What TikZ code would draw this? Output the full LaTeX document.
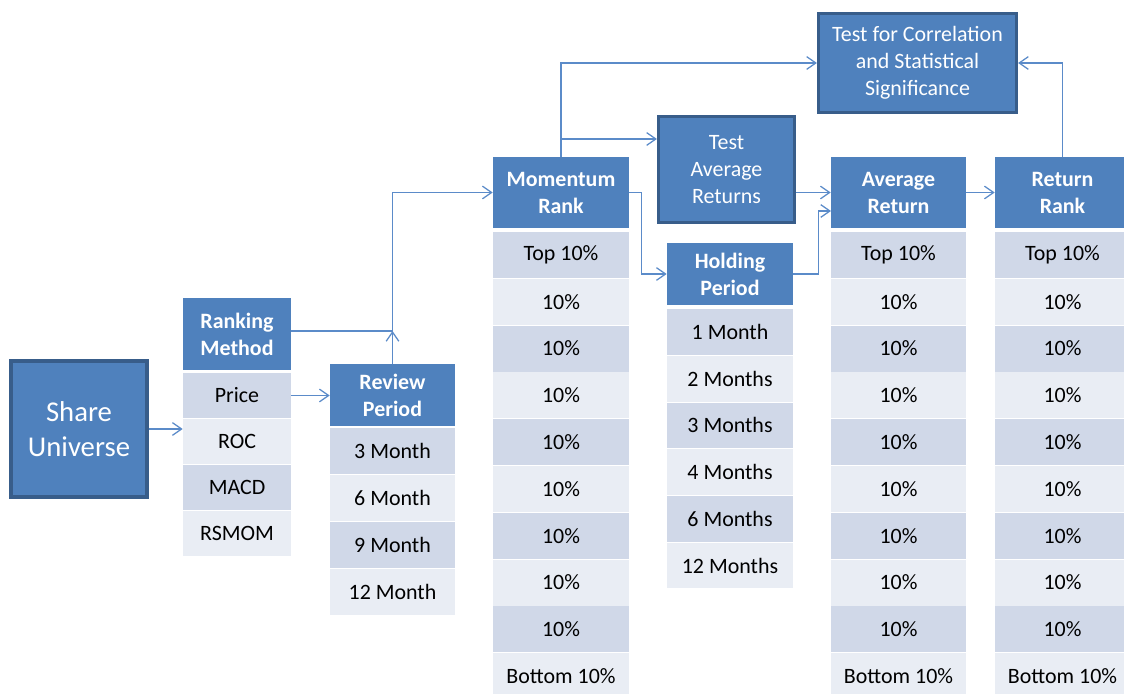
\documentclass[tikz,border=0pt]{standalone}
\usepackage{fontspec}
\setmainfont{Carlito}
\usepackage{tikz}
\usetikzlibrary{arrows.meta}
\definecolor{boxblue}{HTML}{4F81BD}
\definecolor{boxedge}{HTML}{385D8A}
\definecolor{rowdark}{HTML}{D0D8E8}
\definecolor{rowlight}{HTML}{E9EDF4}
\definecolor{linkblue}{HTML}{5B8BC9}
\tikzset{
  head/.style={fill=boxblue, text=white, align=center, inner sep=0pt,
    font=\fontsize{15.6}{19.2}\selectfont\bfseries},
  testbox/.style={fill=boxblue, draw=boxedge, line width=2.2pt, text=white,
    align=center, inner sep=0pt, font=\fontsize{15.6}{19.2}\selectfont},
  cell/.style={inner sep=0pt, font=\fontsize{15.6}{19}\selectfont},
  cell1/.style={cell, fill=rowdark},
  cell0/.style={cell, fill=rowlight},
  link/.style={draw=linkblue, line width=0.9pt},
  >={Straight Barb[length=6.5pt,width=9pt]}
}

\begin{document}
\begin{tikzpicture}[x=0.025cm, y=-0.025cm]
  \useasboundingbox (0,0) rectangle (1124,694);

  \node [testbox, minimum width=3.4cm, minimum height=3.4cm,
    font=\fontsize{20.4}{25}\selectfont] (share) at (79,429) {Share\\Universe};

  \node [head, minimum width=2.7cm, minimum height=1.8cm] (rankhead) at (237,334) {Ranking\\Method};
  \foreach \t [count=\i] in {Price,ROC,MACD,RSMOM} {
    \pgfmathtruncatemacro\c{mod(\i,2)}
    \node [cell\c, minimum width=2.7cm, minimum height=1.125cm] (rank-\i) at (237,{395.5+46*(\i-1)}) {\t};
  }

  \node [head, minimum width=3.125cm, minimum height=1.55cm] (review) at (392.5,395) {Review\\Period};
  \foreach \t [count=\i] in {3 Month,6 Month,9 Month,12 Month} {
    \pgfmathtruncatemacro\c{mod(\i,2)}
    \node [cell\c, minimum width=3.125cm, minimum height=1.15cm] (review-\i) at (392.5,{451+47*(\i-1)}) {\t};
  }

  \node [head, minimum width=3.4cm, minimum height=1.775cm] (mom) at (561,192.5) {Momentum\\Rank};
  \node [head, minimum width=3.375cm, minimum height=1.775cm] (avg) at (898.5,192.5) {Average\\Return};
  \node [head, minimum width=3.375cm, minimum height=1.775cm] (ret) at (1062.5,192.5) {Return\\Rank};
  \foreach \col/\x in {mom/561,avg/898.5,ret/1062.5} {
    \foreach \t [count=\i] in {Top 10\%,10\%,10\%,10\%,10\%,10\%,10\%,10\%,10\%,Bottom 10\%} {
      \pgfmathtruncatemacro\c{mod(\i,2)}
      \node [cell\c, minimum width=3.375cm, minimum height=1.145cm] (\col-\i) at (\x,{255+46.8*(\i-1)}) {\t};
    }
  }

  \node [testbox, minimum width=3.4cm, minimum height=2.65cm] (tavg) at (726.5,169.5) {Test\\Average\\Returns};

  \node [head, minimum width=3.15cm, minimum height=1.55cm] (hold) at (730,274) {Holding\\Period};
  \foreach \t [count=\i] in {1 Month,2 Months,3 Months,4 Months,6 Months,12 Months} {
    \pgfmathtruncatemacro\c{mod(\i,2)}
    \node [cell\c, minimum width=3.15cm, minimum height=1.1425cm] (hold-\i) at (730,{332+46.7*(\i-1)}) {\t};
  }

  \node [testbox, minimum width=4.95cm, minimum height=2.475cm] (tcorr) at (917.5,63) {Test for Correlation\\and Statistical\\Significance};

  \coordinate (rvjoin) at (392.5,331);
  \coordinate (momtap) at (561,139);
  \coordinate (avgin) at (831,211);

  \draw [link,->] (share.east) -- (share.east -| rank-1.west);
  \draw [link,->] (rank-1.east) -- (rank-1.east -| review.west);
  \draw [link,->] (review.north) -- (rvjoin);
  \draw [link,->] (rankhead.east |- rvjoin) -- (rvjoin) |- (mom.west);
  \draw [link,->] (mom.north) |- (tcorr.west);
  \draw [link,->] (momtap) -- (momtap -| tavg.west);
  \draw [link,->] (mom.east) -- ++(12,0) |- (hold.west);
  \draw [link,->] (avg.west -| tavg.east) -- (avg.west);
  \draw [link,->] (hold.east) -- ++(25,0) |- (avgin);
  \draw [link,->] (avg.east) -- (ret.west);
  \draw [link,->] (ret.north) |- (tcorr.east);
\end{tikzpicture}
\end{document}
